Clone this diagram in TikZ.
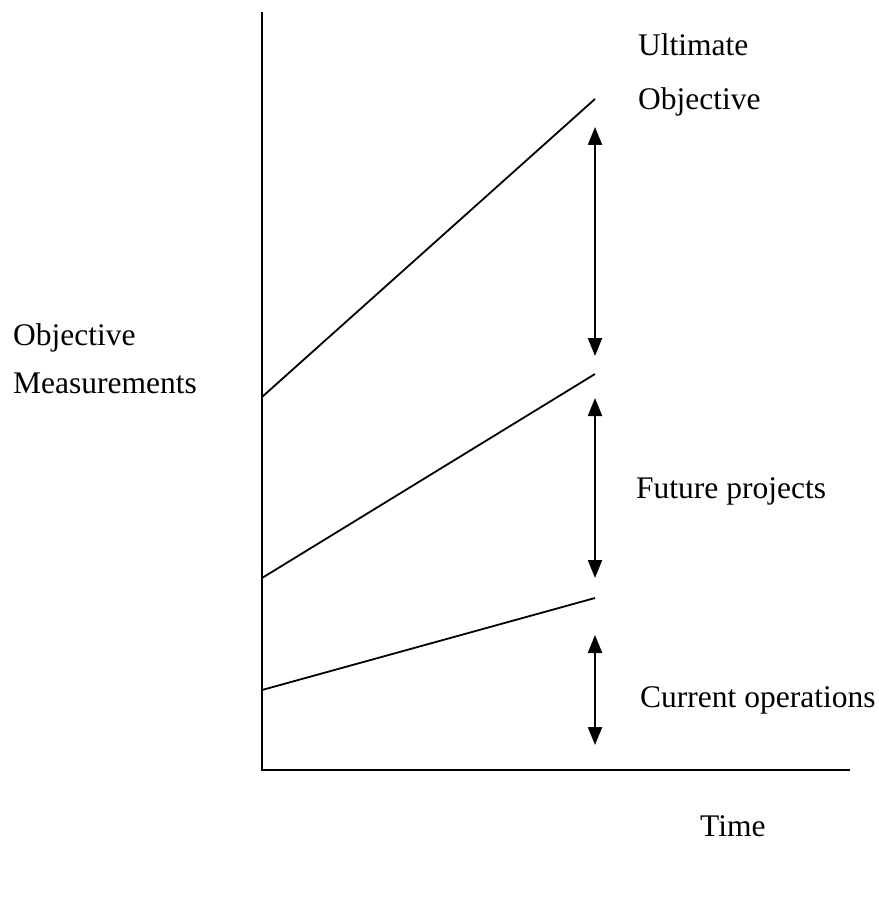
\documentclass[tikz,border=0pt]{standalone}
\usepackage{fontspec}
\setmainfont{Liberation Serif}
\usetikzlibrary{arrows.meta}
\begin{document}
\begin{tikzpicture}[x=1pt,y=-1pt,
  axisline/.style={line width=2.2pt},
  trend/.style={line width=1.8pt},
  gap/.style={line width=2.2pt,{Triangle[width=14pt,length=18pt]}-{Triangle[width=14pt,length=18pt]}},
  lbl/.style={inner sep=0pt,anchor=base west,font=\fontsize{31.5}{38}\selectfont}]
\useasboundingbox (0,0) rectangle (878,909);
% axes
\coordinate (top) at (262,12);
\coordinate (origin) at (262,770);
\coordinate (xend) at (850,770);
\draw[axisline] (top) -- (origin) -- (xend);
% trend lines
\coordinate (a0) at (262,397); \coordinate (a1) at (595,99);
\coordinate (b0) at (262,578); \coordinate (b1) at (595,374);
\coordinate (c0) at (262,690); \coordinate (c1) at (595,598);
\draw[trend] (a0) -- (a1);
\draw[trend] (b0) -- (b1);
\draw[trend] (c0) -- (c1);
% gap arrows
\coordinate (g1t) at (595,127); \coordinate (g1b) at (595,356);
\coordinate (g2t) at (595,398); \coordinate (g2b) at (595,578);
\coordinate (g3t) at (595,635); \coordinate (g3b) at (595,745);
\draw[gap] (g1t) -- (g1b);
\draw[gap] (g2t) -- (g2b);
\draw[gap] (g3t) -- (g3b);
% labels
\node[lbl] (ult) at (638,56) {Ultimate};
\node[lbl] (obj) at (638,110) {Objective};
\node[lbl] (ym1) at (13,345) {Objective};
\node[lbl] (ym2) at (13,393) {Measurements};
\node[lbl] (fut) at (636,498) {Future projects};
\node[lbl] (cur) at (640,707) {Current operations};
\node[lbl] (time) at (700,836) {Time};
\end{tikzpicture}
\end{document}
